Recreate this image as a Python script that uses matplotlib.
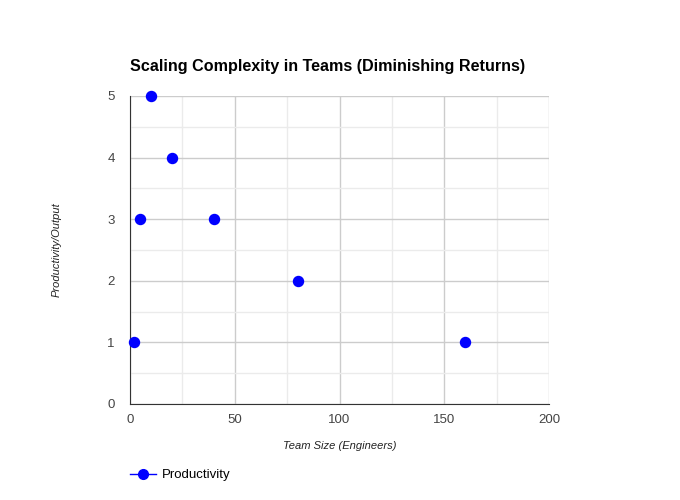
import matplotlib
matplotlib.use("Agg")
import matplotlib.pyplot as plt
from matplotlib.lines import Line2D

plt.rcParams["font.family"] = ["Liberation Sans", "DejaVu Sans"]

# data
team_size = [2, 5, 10, 20, 40, 80, 160]
productivity = [1, 3, 5, 4, 3, 2, 1]
x_ticks = [0, 50, 100, 150, 200]
y_ticks = [0, 1, 2, 3, 4, 5]

BLUE = "#0000ff"

fig = plt.figure(figsize=(6.8, 5.0), dpi=100)
ax = fig.add_axes([130 / 680, 1 - 404 / 500, 419 / 680, 308 / 500])

ax.set_xlim(0, 200)
ax.set_ylim(0, 5)
ax.set_xticks(x_ticks)
ax.set_yticks(y_ticks)
ax.set_xticks([25, 75, 125, 175], minor=True)
ax.set_yticks([0.5, 1.5, 2.5, 3.5, 4.5], minor=True)
ax.grid(True, which="major", color="#cccccc", linewidth=1)
ax.grid(True, which="minor", color="#ebebeb", linewidth=1)
ax.set_axisbelow(True)
ax.tick_params(which="both", length=0, labelsize=9.5, labelcolor="#444444")
ax.tick_params(axis="x", pad=7)
ax.tick_params(axis="y", pad=11)

for side in ["top", "right"]:
    ax.spines[side].set_visible(False)
ax.spines["left"].set_color("#333333")
ax.spines["bottom"].set_color("#333333")

ax.scatter(team_size, productivity, s=52, color=BLUE, zorder=3, clip_on=False)

ax.set_xlabel("Team Size (Engineers)", fontsize=8, style="italic", color="#222222")
ax.xaxis.set_label_coords(0.5, -(441 - 404) / 308)
ax.set_ylabel("Productivity/Output", fontsize=8, style="italic", color="#222222")
ax.yaxis.set_label_coords(-(130 - 62) / 419, 0.5)

fig.text(130 / 680, 1 - 67 / 500, "Scaling Complexity in Teams (Diminishing Returns)",
         fontsize=11.6, fontweight="bold", ha="left", va="center")

handle = Line2D([], [], color=BLUE, marker="o", markersize=7, linewidth=1)
fig.legend([handle], ["Productivity"], loc="center left",
           bbox_to_anchor=(118 / 680, 1 - 475 / 500), frameon=False,
           fontsize=9.5, handlelength=2.0, handletextpad=0.4)

fig.savefig("out.png", dpi=100)
